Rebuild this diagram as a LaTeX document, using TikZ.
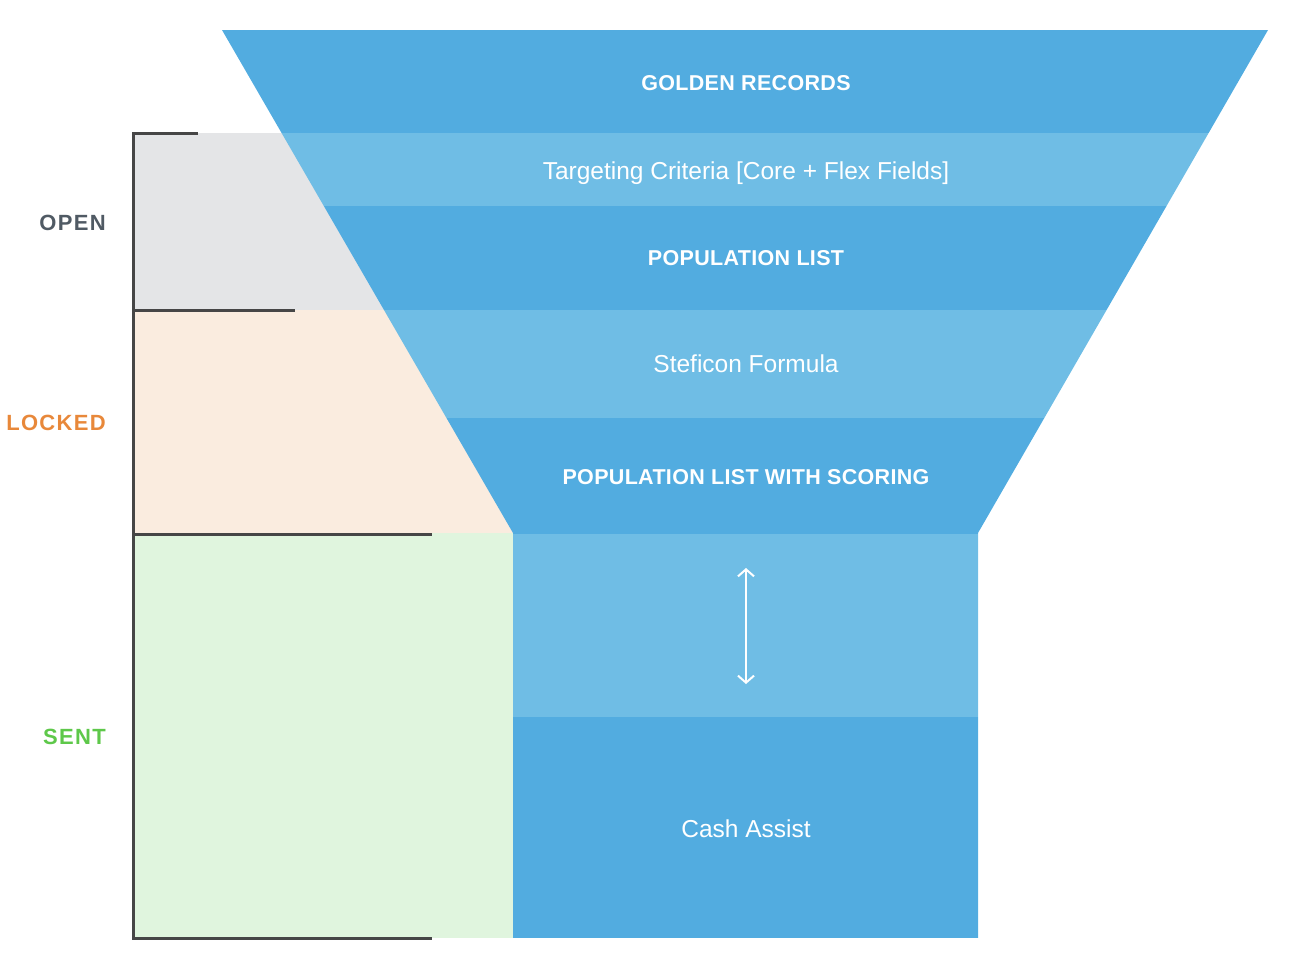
\documentclass[tikz,border=0pt]{standalone}
\usepackage{fontspec}
\setmainfont{Liberation Sans}
\newfontfamily\capsfont[LetterSpace=1.5]{Liberation Sans}
\newfontfamily\labelfont[LetterSpace=6]{Liberation Sans}
\usetikzlibrary{arrows.meta}
\definecolor{bluedark}{RGB}{82,172,224}
\definecolor{bluelight}{RGB}{111,189,229}
\definecolor{opengray}{RGB}{228,229,231}
\definecolor{lockpeach}{RGB}{250,236,223}
\definecolor{sentgreen}{RGB}{224,245,222}
\definecolor{bracketcol}{RGB}{70,70,70}
\definecolor{opentext}{RGB}{80,90,100}
\definecolor{locktext}{RGB}{232,136,58}
\definecolor{senttext}{RGB}{94,200,74}
\tikzset{
  bandcaps/.style={text=white, anchor=base, inner sep=0pt, font=\capsfont\bfseries\fontsize{21.5}{24}\selectfont},
  bandtext/.style={text=white, anchor=base, inner sep=0pt, font=\fontsize{24.5}{28}\selectfont},
  sidelabel/.style={anchor=base east, inner sep=0pt, font=\labelfont\bfseries\fontsize{22}{24}\selectfont},
  bracket/.style={draw=bracketcol, line width=3pt},
}
\begin{document}
\begin{tikzpicture}[x=1pt,y=-1pt]
\useasboundingbox (0,0) rectangle (1290,962);
% left state regions
\fill[opengray] (133,133) rectangle (600,310);
\fill[lockpeach] (133,310) rectangle (600,533);
\fill[sentgreen] (133,533) rectangle (513,938);
% funnel
\begin{scope}
\clip (222,30) -- (1268,30) -- (978,533) -- (978,938) -- (513,938) -- (513,533) -- cycle;
\fill[bluedark]  (200,30)  rectangle (1290,133);
\fill[bluelight] (200,133) rectangle (1290,206);
\fill[bluedark]  (200,206) rectangle (1290,310);
\fill[bluelight] (200,310) rectangle (1290,418);
\fill[bluedark]  (200,418) rectangle (1290,534);
\fill[bluelight] (200,534) rectangle (1290,717);
\fill[bluedark]  (200,717) rectangle (1290,938);
\end{scope}
% bracket
\draw[bracket] (198,133) -- (133,133) -- (133,938) -- (432,938);
\draw[bracket] (133,310) -- (295,310);
\draw[bracket] (133,534) -- (432,534);
% funnel texts
\node[bandcaps] (golden) at (746,90) {GOLDEN RECORDS};
\node[bandtext] (target) at (746,179) {Targeting Criteria [Core + Flex Fields]};
\node[bandcaps] (poplist) at (746,265) {POPULATION LIST};
\node[bandtext] (stef) at (746,372.5) {Steficon Formula};
\node[bandcaps] (popscore) at (746,484) {POPULATION LIST WITH SCORING};
\node[bandtext] (cash) at (746,837) {Cash Assist};
% arrow
\coordinate (atop) at (746,568);
\coordinate (abot) at (746,684);
\draw[white, line width=2pt, {Straight Barb[length=7pt,width=16pt]}-{Straight Barb[length=7pt,width=16pt]}] (atop) -- (abot);
% side labels
\node[sidelabel, text=opentext] (open) at (106,230) {OPEN};
\node[sidelabel, text=locktext] (locked) at (106,430.5) {LOCKED};
\node[sidelabel, text=senttext] (sent) at (106,744.5) {SENT};
\end{tikzpicture}
\end{document}
